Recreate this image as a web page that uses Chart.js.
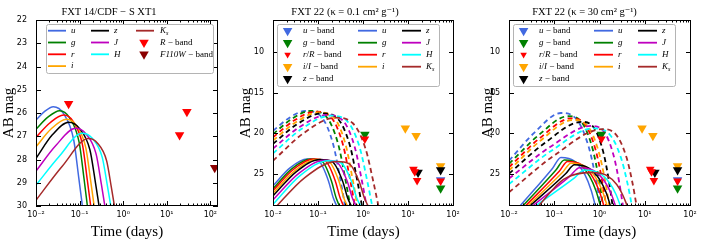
<!DOCTYPE html>
<html>
<head>
<meta charset="utf-8">
<title>Kilonova light curves</title>
<script src="https://cdn.jsdelivr.net/npm/chart.js@4.4.1/dist/chart.umd.min.js"></script>
<style>
  html, body { margin: 0; padding: 0; background: #fff; }
  #wrap { position: relative; width: 720px; height: 252px; overflow: hidden; }
  #wrap canvas { position: absolute; top: 0; }
</style>
</head>
<body>
<div id="wrap">
  <canvas id="fxt14" width="236" height="252" style="left:0px"></canvas>
  <canvas id="fxt22a" width="242" height="252" style="left:236px"></canvas>
  <canvas id="fxt22b" width="242" height="252" style="left:478px"></canvas>
</div>
<script>
Chart.defaults.color = '#000';
Chart.defaults.font.family = '"DejaVu Sans", sans-serif';

const serif = '"Liberation Serif", "DejaVu Serif", serif';

const bandColors = ['#4169e1', '#008000', '#ff0000', '#ffa500', '#000000', '#bf00bf', '#00ffff', '#a52a2a'];

const timeTicks = [0.01, 0.1, 1, 10, 100];
const xt1MagTicks = [22, 23, 24, 25, 26, 27, 28, 29, 30];
const fxt22MagTicks = [10, 15, 20, 25];

// FXT 14 / CDF-S XT1 model curves, band order u g r i z J H Ks : [days, AB mag]
const xt1Curves = [
  [[0.01,26.3],[0.0158,25.93],[0.025,25.73],[0.043,26.03],[0.073,27.14],[0.096,28.8],[0.116,30]],
  [[0.01,26.7],[0.0187,26.18],[0.035,25.9],[0.058,26.19],[0.0975,27.25],[0.127,28.85],[0.151,30]],
  [[0.01,27.05],[0.0207,26.43],[0.043,26.09],[0.071,26.36],[0.117,27.38],[0.151,28.91],[0.18,30]],
  [[0.01,27.45],[0.0224,26.68],[0.05,26.27],[0.083,26.53],[0.139,27.5],[0.181,28.96],[0.216,30]],
  [[0.01,27.95],[0.0237,26.94],[0.056,26.4],[0.098,26.65],[0.173,27.59],[0.231,28.99],[0.28,30]],
  [[0.01,28.5],[0.0285,27.4],[0.081,26.66],[0.139,26.89],[0.239,27.76],[0.316,29.06],[0.38,30]],
  [[0.01,29.1],[0.0339,27.87],[0.115,26.87],[0.195,27.09],[0.33,27.9],[0.434,29.12],[0.52,30]],
  [[0.01,29.75],[0.04,28.29],[0.16,27.1],[0.258,27.3],[0.418,28.06],[0.535,29.19],[0.63,30]]
];
const xt1RBand = [[0.056, 25.6], [19.7, 26.95], [29, 25.95]];
const xt1F110W = [[126, 28.35]];

// FXT 22, kappa = 0.1 cm^2/g
const lowSolid = [
  [[0.01,26.5],[0.0239,24.29],[0.057,23.2],[0.105,23.49],[0.17,25.87],[0.217,27.96],[0.26,29]],
  [[0.01,26.85],[0.0261,24.4],[0.068,23.2],[0.123,23.49],[0.198,25.87],[0.251,27.96],[0.3,29]],
  [[0.01,27.1],[0.0283,24.49],[0.08,23.2],[0.148,23.49],[0.241,25.87],[0.308,27.96],[0.37,29]],
  [[0.01,27.4],[0.0308,24.62],[0.095,23.25],[0.177,23.54],[0.291,25.9],[0.373,27.97],[0.45,29]],
  [[0.01,27.75],[0.0332,24.74],[0.11,23.25],[0.209,23.54],[0.351,25.9],[0.453,27.97],[0.55,29]],
  [[0.01,28.25],[0.0374,24.97],[0.14,23.35],[0.267,23.63],[0.446,25.95],[0.577,27.98],[0.7,29]],
  [[0.01,28.8],[0.0412,25.18],[0.17,23.4],[0.328,23.68],[0.555,25.98],[0.723,27.99],[0.88,29]],
  [[0.01,29.5],[0.051,25.48],[0.26,23.5],[0.496,23.78],[0.828,26.03],[1.072,28.01],[1.3,29]]
];
const lowDashed = [
  [[0.01,19.7],[0.0228,18.11],[0.052,17.25],[0.118,17.96],[0.217,21.36],[0.313,25.71],[0.4,29]],
  [[0.01,20.1],[0.0259,18.25],[0.067,17.25],[0.152,17.96],[0.281,21.36],[0.406,25.71],[0.52,29]],
  [[0.01,20.5],[0.0293,18.44],[0.086,17.33],[0.194,18.03],[0.358,21.41],[0.516,25.73],[0.66,29]],
  [[0.01,20.9],[0.0321,18.64],[0.103,17.42],[0.228,18.11],[0.413,21.47],[0.591,25.76],[0.75,29]],
  [[0.01,21.3],[0.0349,18.86],[0.122,17.54],[0.277,18.23],[0.513,21.55],[0.741,25.79],[0.95,29]],
  [[0.01,21.9],[0.0397,19.2],[0.158,17.75],[0.356,18.43],[0.653,21.69],[0.941,25.85],[1.2,29]],
  [[0.01,22.5],[0.0434,19.46],[0.188,17.83],[0.443,18.5],[0.841,21.74],[1.237,25.87],[1.6,29]],
  [[0.01,23.4],[0.0493,19.94],[0.243,18.08],[0.586,18.74],[1.135,21.9],[1.687,25.94],[2.2,29]]
];

// FXT 22, kappa = 30 cm^2/g
const highSolid = [
  [[0.0175,29],[0.092,24.32],[0.14,23.0],[0.283,23.48],[0.478,25.16],[0.656,27.08],[0.81,29]],
  [[0.02,29],[0.109,24.55],[0.167,23.3],[0.348,23.76],[0.605,25.35],[0.842,27.18],[1.05,29]],
  [[0.023,29],[0.129,24.71],[0.198,23.5],[0.414,23.94],[0.719,25.48],[1.0,27.24],[1.25,29]],
  [[0.026,29],[0.151,24.87],[0.235,23.7],[0.491,24.12],[0.851,25.61],[1.186,27.3],[1.48,29]],
  [[0.029,29],[0.178,25.02],[0.28,23.9],[0.583,24.31],[1.01,25.74],[1.405,27.37],[1.75,29]],
  [[0.033,29],[0.223,25.3],[0.36,24.26],[0.75,24.64],[1.3,25.97],[1.81,27.48],[2.26,29]],
  [[0.038,29],[0.28,25.53],[0.46,24.55],[0.961,24.91],[1.669,26.15],[2.32,27.58],[2.9,29]],
  [[0.045,29],[0.16,25.7],[0.7,24.85],[1.4,25.18],[2.4,26.35],[3.3,27.7],[4.1,29]]
];
const highDashed = [
  [[0.01,23.4],[0.0374,19.86],[0.14,17.5],[0.313,18.3],[0.573,21.64],[0.824,25.55],[1.05,29]],
  [[0.01,23.8],[0.0447,20.26],[0.2,17.9],[0.409,18.68],[0.701,21.9],[0.967,25.67],[1.2,29]],
  [[0.01,24.2],[0.0485,20.58],[0.235,18.16],[0.48,18.92],[0.819,22.06],[1.13,25.75],[1.4,29]],
  [[0.01,24.6],[0.051,20.86],[0.26,18.36],[0.545,19.1],[0.948,22.19],[1.322,25.81],[1.65,29]],
  [[0.01,25.0],[0.0632,21.16],[0.4,18.6],[0.754,19.33],[1.212,22.34],[1.612,25.88],[1.95,29]],
  [[0.01,25.6],[0.0806,21.7],[0.65,19.1],[1.245,19.79],[2.027,22.66],[2.716,26.03],[3.3,29]],
  [[0.01,26.3],[0.0866,22.16],[0.75,19.4],[1.63,20.07],[2.91,22.86],[4.12,26.12],[5.2,29]],
  [[0.01,27.3],[0.1072,22.62],[1.15,19.5],[2.31,20.17],[3.91,22.92],[5.35,26.15],[6.6,29]]
];

// FXT 22 upper limits (same in both panels)
const fxt22UBand = [[53, 25.8]];
const fxt22GBand = [[1.1, 20.15], [53, 26.8]];
const fxt22IBand = [[8.7, 19.4], [15.1, 20.3], [53, 24.05]];
const fxt22ZBand = [[16.7, 24.85], [53, 24.55]];
const fxt22RBand = [[1.1, 20.7], [13.2, 24.45], [14.1, 24.75], [15.9, 25.85], [53, 25.9]];

const supChars = { '-': '\u207b', '0': '\u2070', '1': '\u00b9', '2': '\u00b2', '3': '\u00b3' };
function powerLabel(v) {
  const e = String(Math.round(Math.log10(v)));
  return '10' + e.split('').map(c => supChars[c]).join('');
}

function lineSets(curves, dashed) {
  return curves.map((pts, k) => ({
    data: pts.map(p => ({ x: p[0], y: p[1] })),
    showLine: true,
    borderColor: bandColors[k],
    borderWidth: dashed ? 1.8 : 1.5,
    borderDash: dashed ? [5, 3.5] : [],
    pointRadius: 0,
    pointHoverRadius: 0,
    cubicInterpolationMode: 'monotone',
    fill: false
  }));
}

function markerSet(pts, color, r) {
  return {
    data: pts.map(p => ({ x: p[0], y: p[1] })),
    showLine: false,
    pointStyle: 'triangle',
    pointRotation: 180,
    pointRadius: r,
    pointHoverRadius: r,
    pointBackgroundColor: color,
    pointBorderColor: color,
    pointBorderWidth: 0
  };
}

// inward ticks on all four sides + the frame
const frameTicks = {
  id: 'frameTicks',
  afterDatasetsDraw(chart) {
    const { ctx, chartArea: a, scales: { x, y } } = chart;
    ctx.save();
    ctx.strokeStyle = '#000';
    ctx.lineWidth = 1;
    ctx.beginPath();
    for (let d = -3; d <= 3; d++) {
      for (let k = 1; k <= 9; k++) {
        const v = k * Math.pow(10, d);
        if (v < x.min * 0.999 || v > x.max * 1.001) continue;
        const px = Math.round(x.getPixelForValue(v)) + 0.5;
        const len = k === 1 ? 5 : 2.5;
        ctx.moveTo(px, a.bottom); ctx.lineTo(px, a.bottom - len);
        ctx.moveTo(px, a.top); ctx.lineTo(px, a.top + len);
      }
    }
    y.ticks.forEach(t => {
      const py = Math.round(y.getPixelForValue(t.value)) + 0.5;
      ctx.moveTo(a.left, py); ctx.lineTo(a.left + 5, py);
      ctx.moveTo(a.right, py); ctx.lineTo(a.right - 5, py);
    });
    ctx.stroke();
    ctx.strokeRect(a.left + 0.5, a.top + 0.5, a.width - 1, a.height - 1);
    ctx.restore();
  }
};

function drawRich(ctx, parts, x, y, size) {
  let cx = x;
  ctx.textBaseline = 'middle';
  ctx.textAlign = 'left';
  ctx.fillStyle = '#000';
  for (const [txt, style] of parts) {
    const sub = style === 'sub';
    const fs = sub ? size * 0.7 : size;
    ctx.font = (style === 'i' || sub ? 'italic ' : '') + fs + 'px ' + serif;
    ctx.fillText(txt, cx, sub ? y + size * 0.3 : y);
    cx += ctx.measureText(txt).width;
  }
}

function triangleDown(ctx, x, y, r, color) {
  ctx.fillStyle = color;
  ctx.beginPath();
  ctx.moveTo(x, y + r);
  ctx.lineTo(x - r * 0.866, y - r / 2);
  ctx.lineTo(x + r * 0.866, y - r / 2);
  ctx.closePath();
  ctx.fill();
}

function makeLegend(cfg) {
  return {
    id: 'legendBox',
    afterDraw(chart) {
      const { ctx, chartArea: a } = chart;
      const [bx, by, bw, bh] = cfg.box;
      const x0 = a.left + bx, y0 = a.top + by;
      ctx.save();
      ctx.fillStyle = '#fff';
      ctx.strokeStyle = '#b4b4b4';
      ctx.lineWidth = 1;
      ctx.beginPath();
      ctx.roundRect(x0 + 0.5, y0 + 0.5, bw, bh, 2);
      ctx.fill();
      ctx.stroke();
      cfg.items.forEach(it => {
        const y = y0 + cfg.row0 + it.row * cfg.rowStep;
        if (it.kind === 'line') {
          ctx.strokeStyle = it.color;
          ctx.lineWidth = 1.8;
          ctx.setLineDash([]);
          ctx.beginPath();
          ctx.moveTo(x0 + it.x0, y);
          ctx.lineTo(x0 + it.x1, y);
          ctx.stroke();
        } else {
          triangleDown(ctx, x0 + it.x0, y, it.r, it.color);
        }
        drawRich(ctx, it.label, x0 + it.tx, y, 9);
      });
      ctx.restore();
    }
  };
}

const it = s => [s, 'i'];
const rm = s => [s, ''];
const bandLabels = [[it('u')], [it('g')], [it('r')], [it('i')], [it('z')], [it('J')], [it('H')], [it('K'), ['s', 'sub']]];

const xt1Legend = {
  box: [10, 4, 167, 49], row0: 6.7, rowStep: 11.8,
  items: [
    { kind: 'line', row: 0, x0: 2, x1: 20, tx: 25, color: bandColors[0], label: bandLabels[0] },
    { kind: 'line', row: 1, x0: 2, x1: 20, tx: 25, color: bandColors[1], label: bandLabels[1] },
    { kind: 'line', row: 2, x0: 2, x1: 20, tx: 25, color: bandColors[2], label: bandLabels[2] },
    { kind: 'line', row: 3, x0: 2, x1: 20, tx: 25, color: bandColors[3], label: bandLabels[3] },
    { kind: 'line', row: 0, x0: 45, x1: 63, tx: 68, color: bandColors[4], label: bandLabels[4] },
    { kind: 'line', row: 1, x0: 45, x1: 63, tx: 68, color: bandColors[5], label: bandLabels[5] },
    { kind: 'line', row: 2, x0: 45, x1: 63, tx: 68, color: bandColors[6], label: bandLabels[6] },
    { kind: 'line', row: 0, x0: 90, x1: 108, tx: 114, color: bandColors[7], label: bandLabels[7] },
    { kind: 'marker', row: 1, x0: 98, r: 5.5, tx: 114, color: '#ff0000', label: [it('R'), rm(' \u2212 band')] },
    { kind: 'marker', row: 2, x0: 98, r: 5.5, tx: 114, color: '#8b0000', label: [it('F110W'), rm(' \u2212 band')] }
  ]
};

function fxt22Legend() {
  const items = [
    { kind: 'marker', row: 0, x0: 10.6, r: 5.5, tx: 26, color: bandColors[0], label: [it('u'), rm(' \u2212 band')] },
    { kind: 'marker', row: 1, x0: 10.6, r: 5.5, tx: 26, color: bandColors[1], label: [it('g'), rm(' \u2212 band')] },
    { kind: 'marker', row: 2, x0: 10.6, r: 3.8, tx: 26, color: bandColors[2], label: [it('r'), rm('/'), it('R'), rm(' \u2212 band')] },
    { kind: 'marker', row: 3, x0: 10.6, r: 5.5, tx: 26, color: bandColors[3], label: [it('i'), rm('/'), it('I'), rm(' \u2212 band')] },
    { kind: 'marker', row: 4, x0: 10.6, r: 5.5, tx: 26, color: bandColors[4], label: [it('z'), rm(' \u2212 band')] }
  ];
  for (let k = 0; k < 4; k++) {
    items.push({ kind: 'line', row: k, x0: 81, x1: 100, tx: 105, color: bandColors[k], label: bandLabels[k] });
    items.push({ kind: 'line', row: k, x0: 125, x1: 144, tx: 149, color: bandColors[k + 4], label: bandLabels[k + 4] });
  }
  return { box: [4, 4, 162, 62], row0: 6.7, rowStep: 12, items };
}

function makePanel(id, o) {
  const datasets = o.datasets;
  datasets.forEach((d, i) => { d.order = 1000 - i; });
  return new Chart(document.getElementById(id), {
    type: 'scatter',
    data: { datasets },
    options: {
      responsive: false,
      animation: false,
      devicePixelRatio: 1,
      events: [],
      layout: { padding: { left: 0, right: o.padRight, top: 0, bottom: 0 } },
      plugins: {
        legend: { display: false },
        tooltip: { enabled: false },
        title: {
          display: true,
          text: o.title,
          color: '#000',
          font: { family: serif, size: 10.5, weight: 'normal', lineHeight: 1.2 },
          padding: { top: 6, bottom: 1.4 }
        }
      },
      scales: {
        x: {
          type: 'logarithmic',
          min: 0.01,
          max: o.xMax,
          grid: { display: false, drawTicks: false },
          border: { display: false },
          afterBuildTicks: s => { s.ticks = timeTicks.filter(v => v <= o.xMax).map(v => ({ value: v })); },
          ticks: { font: { size: 8 }, padding: 4, maxRotation: 0, autoSkip: false, callback: v => powerLabel(v) },
          title: { display: true, text: 'Time (days)', font: { family: serif, size: 15 }, padding: { top: 0, bottom: 11 } },
          afterFit: s => { s.height = 46; }
        },
        y: {
          type: 'linear',
          reverse: true,
          min: o.yMin,
          max: o.yMax,
          grid: { display: false, drawTicks: false },
          border: { display: false },
          afterBuildTicks: s => { s.ticks = o.yTicks.map(v => ({ value: v })); },
          ticks: { font: { size: 8 }, padding: 9, callback: v => String(v) },
          title: { display: true, text: 'AB mag', font: { family: serif, size: 15 }, padding: { top: o.yTitlePad, bottom: 0 } },
          afterFit: s => { s.width = o.yWidth; }
        }
      }
    },
    plugins: [frameTicks, makeLegend(o.legend)]
  });
}

makePanel('fxt14', {
  title: 'FXT 14/CDF \u2212 S XT1',
  xMax: 150, yMin: 22, yMax: 30, yTicks: xt1MagTicks,
  yWidth: 36, padRight: 18, yTitlePad: 0,
  legend: xt1Legend,
  datasets: [
    ...lineSets(xt1Curves, false),
    markerSet(xt1RBand, '#ff0000', 5.5),
    markerSet(xt1F110W, '#8b0000', 5.5)
  ]
});

function fxt22Markers() {
  return [
    markerSet(fxt22UBand, bandColors[0], 5.5),
    markerSet(fxt22GBand, bandColors[1], 5.5),
    markerSet(fxt22IBand, bandColors[3], 5.5),
    markerSet(fxt22ZBand, bandColors[4], 5.5),
    markerSet(fxt22RBand, bandColors[2], 5)
  ];
}

makePanel('fxt22a', {
  title: 'FXT 22 (\u03ba = 0.1 cm\u00b2 g\u207b\u00b9)',
  xMax: 105, yMin: 6, yMax: 29, yTicks: fxt22MagTicks,
  yWidth: 37, padRight: 24, yTitlePad: 1,
  legend: fxt22Legend(),
  datasets: [...lineSets(lowDashed, true), ...lineSets(lowSolid, false), ...fxt22Markers()]
});

makePanel('fxt22b', {
  title: 'FXT 22 (\u03ba = 30 cm\u00b2 g\u207b\u00b9)',
  xMax: 105, yMin: 6, yMax: 29, yTicks: fxt22MagTicks,
  yWidth: 31, padRight: 29, yTitlePad: 1,
  legend: fxt22Legend(),
  datasets: [...lineSets(highDashed, true), ...lineSets(highSolid, false), ...fxt22Markers()]
});
</script>
</body>
</html>
